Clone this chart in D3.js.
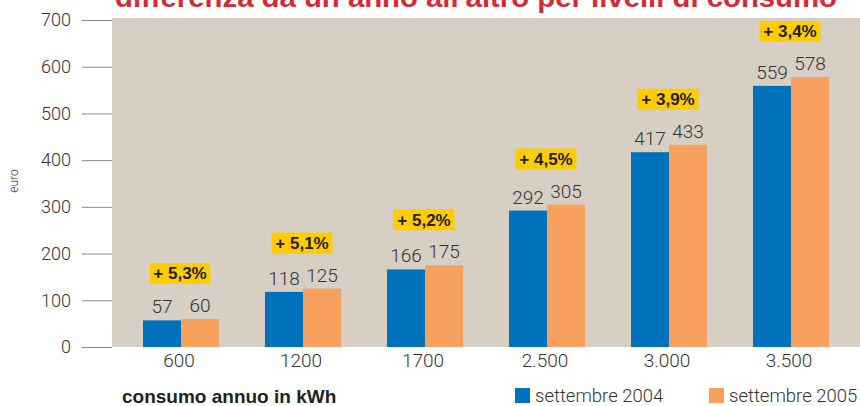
<!DOCTYPE html>
<html>
<head>
<meta charset="utf-8">
<script src="https://cdn.jsdelivr.net/npm/d3@7"></script>
<style>
  body { margin: 0; background: #fff; }
  svg { display: block; }
  .light { font-family: Roboto, 'Liberation Sans', sans-serif; font-weight: 300; fill: #333; }
  .bold { font-family: 'Liberation Sans', Arial, sans-serif; font-weight: bold; fill: #222; }
</style>
</head>
<body>
<svg width="860" height="406"></svg>
<script>
const categories = ['600', '1200', '1700', '2.500', '3.000', '3.500']
const series = ['settembre 2004', 'settembre 2005']
const values2004 = [57, 118, 166, 292, 417, 559]
const values2005 = [60, 125, 175, 305, 433, 578]
const changes = ['+ 5,3%', '+ 5,1%', '+ 5,2%', '+ 4,5%', '+ 3,9%', '+ 3,4%']
const yTicks = [0, 100, 200, 300, 400, 500, 600, 700]

const colors = ['#0071bb', '#f8a05e']

const svg = d3.select('svg')

const plot = { left: 112, right: 860, top: 18, bottom: 347 }

const y = d3.scaleLinear()
  .domain([0, 700])
  .range([347, 20])

const x0 = d3.scaleBand()
  .domain(categories)
  .range([120, 852])
  .paddingInner(0.377)
  .paddingOuter(0.1885)

const x1 = d3.scaleBand()
  .domain(series)
  .range([0, x0.bandwidth()])

// title, cut by the top edge like in the source
svg.append('text')
  .attr('x', 115)
  .attr('y', 7)
  .attr('textLength', 722)
  .attr('lengthAdjust', 'spacingAndGlyphs')
  .style('font-family', "'Liberation Sans', Arial, sans-serif")
  .style('font-weight', 'bold')
  .style('font-size', '27px')
  .style('fill', '#d42a35')
  .text("differenza da un anno all'altro per livelli di consumo")

svg.append('rect')
  .attr('x', plot.left)
  .attr('y', plot.top)
  .attr('width', plot.right - plot.left)
  .attr('height', plot.bottom - plot.top)
  .attr('fill', '#d7cfc3')

// y axis
const yAxis = svg.append('g')
  .attr('transform', `translate(${plot.left},0)`)
  .call(d3.axisLeft(y).tickValues(yTicks).tickSize(30).tickPadding(11))

yAxis.select('.domain').remove()
yAxis.selectAll('.tick line').attr('stroke', '#8a8a8a')
yAxis.selectAll('.tick text')
  .attr('class', 'light')
  .style('font-size', '18px')

svg.append('text')
  .attr('class', 'light')
  .attr('transform', 'translate(18,181) rotate(-90)')
  .attr('text-anchor', 'middle')
  .style('font-size', '12px')
  .text('euro')

// bars
const rows = categories.map((c, i) => ({ cat: c, vals: [values2004[i], values2005[i]], change: changes[i] }))

const group = svg.append('g')
  .selectAll('g')
  .data(rows)
  .enter().append('g')
  .attr('transform', d => `translate(${x0(d.cat)},0)`)

group.selectAll('rect')
  .data(d => d.vals.map((v, j) => ({ key: series[j], v, j })))
  .enter().append('rect')
  .attr('x', d => x1(d.key))
  .attr('y', d => y(d.v))
  .attr('width', x1.bandwidth())
  .attr('height', d => y(0) - y(d.v))
  .attr('fill', d => colors[d.j])

group.selectAll('.val')
  .data(d => d.vals.map((v, j) => ({ key: series[j], v })))
  .enter().append('text')
  .attr('class', 'light val')
  .attr('x', d => x1(d.key) + x1.bandwidth() / 2)
  .attr('y', d => y(d.v) - 7)
  .attr('text-anchor', 'middle')
  .style('font-size', '19px')
  .text(d => d.v)

// change badges
const badge = group.append('g')
  .attr('transform', d => `translate(${x0.bandwidth() / 2 - 1},${y(d3.max(d.vals)) - 35})`)

badge.append('rect')
  .attr('x', -30.5)
  .attr('y', -21)
  .attr('width', 61)
  .attr('height', 21)
  .attr('fill', '#ffcc00')

badge.append('text')
  .attr('class', 'bold')
  .attr('y', -4.5)
  .attr('text-anchor', 'middle')
  .style('font-size', '17px')
  .text(d => d.change)

// x labels
svg.append('g')
  .selectAll('text')
  .data(categories)
  .enter().append('text')
  .attr('class', 'light')
  .attr('x', d => x0(d) + x0.bandwidth() / 2 - 2)
  .attr('y', 367)
  .attr('text-anchor', 'middle')
  .style('font-size', '19px')
  .text(d => d)

svg.append('text')
  .attr('class', 'bold')
  .attr('x', 122)
  .attr('y', 403)
  .style('font-size', '19px')
  .text('consumo annuo in kWh')

// legend
const legendX = [515, 709]
const legend = svg.append('g')
  .selectAll('g')
  .data(series)
  .enter().append('g')
  .attr('transform', (d, i) => `translate(${legendX[i]},388)`)

legend.append('rect')
  .attr('width', 15)
  .attr('height', 15)
  .attr('fill', (d, i) => colors[i])

legend.append('text')
  .attr('class', 'light')
  .attr('x', 20)
  .attr('y', 14)
  .style('font-size', '18.5px')
  .text(d => d)
</script>
</body>
</html>
